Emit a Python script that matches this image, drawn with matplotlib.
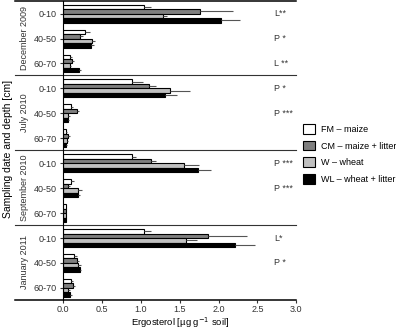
import numpy as np
import matplotlib.pyplot as plt
from matplotlib.patches import Patch

plt.rcParams['font.family'] = ['Liberation Sans', 'DejaVu Sans']

# data (ergosterol, ug/g soil)
dates = ['December 2009', 'July 2010', 'September 2010', 'January 2011']
depths = ['0-10', '40-50', '60-70']
treatments = ['FM – maize', 'CM – maize + litter', 'W – wheat', 'WL – wheat + litter']
colors = ['white', '#7f7f7f', '#c0c0c0', 'black']

# rows: date x depth, columns: FM, CM, W, WL
means = np.array([
    [1.04, 1.76, 1.28, 2.03],
    [0.28, 0.22, 0.37, 0.35],
    [0.08, 0.11, 0.08, 0.20],
    [0.88, 1.10, 1.38, 1.31],
    [0.10, 0.17, 0.06, 0.06],
    [0.04, 0.06, 0.05, 0.04],
    [0.88, 1.13, 1.56, 1.74],
    [0.10, 0.06, 0.19, 0.19],
    [0.03, 0.03, 0.03, 0.03],
    [1.04, 1.86, 1.58, 2.21],
    [0.14, 0.17, 0.19, 0.21],
    [0.10, 0.13, 0.06, 0.09],
])
errs = np.array([
    [0.09, 0.43, 0.05, 0.25],
    [0.06, 0.03, 0.04, 0.04],
    [0.03, 0.03, 0.02, 0.03],
    [0.15, 0.09, 0.25, 0.15],
    [0.03, 0.03, 0.02, 0.01],
    [0.01, 0.02, 0.01, 0.01],
    [0.06, 0.07, 0.19, 0.16],
    [0.04, 0.03, 0.05, 0.03],
    [0.00, 0.00, 0.00, 0.00],
    [0.09, 0.50, 0.14, 0.26],
    [0.03, 0.03, 0.04, 0.02],
    [0.02, 0.02, 0.03, 0.02],
])
# significance labels: (row index, text)
signif = [(0, 'L**'), (1, 'P *'), (2, 'L **'),
          (3, 'P *'), (4, 'P ***'),
          (6, 'P ***'), (7, 'P ***'),
          (9, 'L*'), (10, 'P *')]

fig = plt.figure(figsize=(3.96, 3.31), dpi=100)
ax = fig.add_axes([0.16, 0.094, 0.588, 0.904])

h = 0.18
centers = np.arange(12) + 0.52
for k in range(4):
    y = centers - 1.5 * h + k * h
    ax.barh(y, means[:, k], height=h, color=colors[k], edgecolor='black', linewidth=0.8)
    ax.errorbar(means[:, k], y, xerr=[np.zeros(12), errs[:, k]], fmt='none',
                ecolor='#555555', elinewidth=0.8, capsize=0)

ax.set_xlim(0, 3.0)
ax.set_ylim(12, 0)
ax.set_xticks(np.arange(0, 3.01, 0.5))
ax.set_xticklabels([f'{v:.1f}' for v in np.arange(0, 3.01, 0.5)])
ax.set_yticks(centers)
ax.set_yticklabels(depths * 4)
ax.tick_params(labelsize=6.5, length=2.5, width=0.8, colors='#333333', pad=2)
ax.tick_params(axis='x', pad=1.5)
for s in ['top', 'right', 'bottom']:
    ax.spines[s].set_visible(False)
ax.spines['left'].set_linewidth(0.8)

# separator lines between dates, extending left past the axis
tr = ax.get_yaxis_transform()
for yl in [0, 3, 6, 9, 12]:
    edge = yl in (0, 12)
    ax.plot([-0.207, 1.0], [yl, yl], transform=tr, color='black' if edge else '#333333',
            lw=1.1 if edge else 0.8, clip_on=False)

for i, d in enumerate(dates):
    ax.text(-0.165, 3 * i + 1.5, d, transform=tr, rotation=90, ha='center', va='center',
            fontsize=6.5, color='#333333')

for r, t in signif:
    ax.text(2.72, centers[r], t, ha='left', va='center', fontsize=6.5, color='#333333')

ax.set_xlabel('Ergosterol [µg g$^{-1}$ soil]', fontsize=6.8, va='center')
ax.xaxis.set_label_coords(0.5, -0.075)
fig.text(0.02, 0.55, 'Sampling date and depth [cm]', rotation=90, ha='center', va='center',
         fontsize=7.5)

handles = [Patch(facecolor=c, edgecolor='black', linewidth=0.8) for c in colors]
fig.legend(handles, treatments, loc='center left', bbox_to_anchor=(0.765, 0.535), frameon=False,
           fontsize=6.5, handlelength=1.3, handleheight=1.3, labelspacing=0.75, handletextpad=0.7,
           borderaxespad=0, borderpad=0)

fig.savefig('out.png', dpi=100)
